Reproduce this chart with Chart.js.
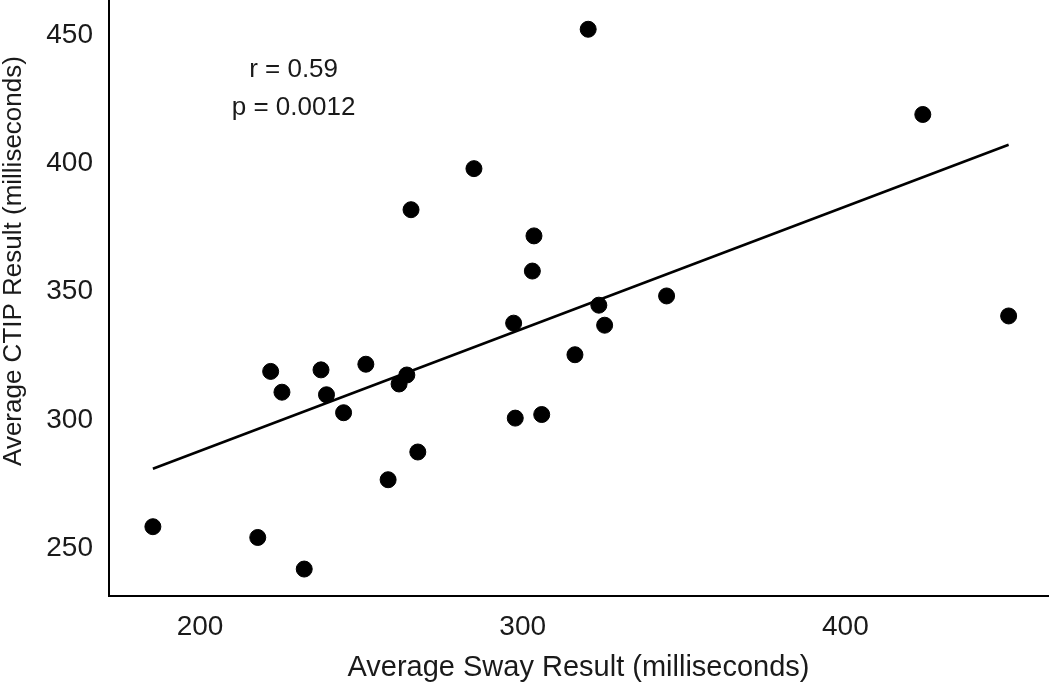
<!DOCTYPE html>
<html><head><meta charset="utf-8">
<script src="https://cdn.jsdelivr.net/npm/chart.js@4/dist/chart.umd.min.js"></script>
<style>html,body{margin:0;padding:0;background:#fff}#w{width:1050px;height:682px}</style>
</head><body><div id="w"><canvas id="c"></canvas></div>
<script>
const swayX = [185.4,217.9,221.9,225.4,232.3,237.5,239.2,244.5,251.4,258.3,261.7,264.1,265.4,267.5,284.9,297.2,297.7,303.0,303.5,305.9,316.2,320.3,323.6,325.4,344.6,424.0,450.6];
const ctipY = [258.4,254.2,318.9,310.8,241.9,319.5,309.8,302.8,321.7,276.7,314.0,317.5,381.9,287.5,397.9,337.7,300.7,358.0,371.7,302.1,325.4,452.2,344.7,336.9,348.3,419.0,340.5];
const fitX = [185.4, 450.6];
const fitY = [281.0, 407.2];
const xTicks = [200, 300, 400];
const yTicks = [250, 300, 350, 400, 450];
const xTitle = 'Average Sway Result (milliseconds)';
const yTitle = 'Average CTIP Result (milliseconds)';
const statsText = ["r = 0.59", "p = 0.0012"];
const statsPos = [[229, 436.4], [229, 421.6]];

const FONT = "'Liberation Sans', Arial, sans-serif";
const TXT = '#1a1a1a';
const annot = {
  id: 'annot',
  afterDatasetsDraw(chart) {
    const ctx = chart.ctx, xs = chart.scales.x, ys = chart.scales.y, ca = chart.chartArea;
    ctx.save();
    ctx.font = "26px " + FONT;
    ctx.fillStyle = TXT;
    ctx.textAlign = "center";
    ctx.textBaseline = "middle";
    statsText.forEach((t, i) => ctx.fillText(t, xs.getPixelForValue(statsPos[i][0]), ys.getPixelForValue(statsPos[i][1])));
    // y axis title
    ctx.font = "26px " + FONT;
    ctx.translate(14, ca.top + (ca.bottom - ca.top) * 0.438);
    ctx.rotate(-Math.PI / 2);
    ctx.fillText(yTitle, 0, 0);
    ctx.restore();
  }
};

new Chart(document.getElementById('c'), {
  type: 'scatter',
  data: {
    datasets: [
      { data: swayX.map((x, i) => ({x, y: ctipY[i]})), backgroundColor: '#000', borderColor: '#000', pointRadius: 8, pointHoverRadius: 8, order: 1 },
      { data: fitX.map((x, i) => ({x, y: fitY[i]})), showLine: true, borderColor: '#000', borderWidth: 2.6, pointRadius: 0, fill: false, order: 2 }
    ]
  },
  options: {
    responsive: true, maintainAspectRatio: false, animation: false,
    layout: { autoPadding: false, padding: { top: 0, right: 2, left: 0, bottom: 0 } },
    plugins: { legend: { display: false }, tooltip: { enabled: false } },
    scales: {
      x: {
        type: 'linear', min: 171.8, max: 462.8,
        afterBuildTicks: s => { s.ticks = xTicks.map(v => ({value: v})); },
        afterFit: s => { s.height = 86; s.paddingLeft = 0; s.paddingRight = 0; },
        grid: { display: false, drawTicks: true, tickLength: 8, tickColor: '#000', tickWidth: 1.5 },
        border: { display: true, color: '#000', width: 2 },
        ticks: { color: TXT, font: { size: 28, family: FONT }, padding: 6, maxRotation: 0 },
        title: { display: true, text: xTitle, color: TXT, font: { size: 29, family: FONT, lineHeight: 1.0 }, padding: { top: 0, bottom: 0 } }
      },
      y: {
        type: 'linear', min: 231.4, max: 463.6,
        afterBuildTicks: s => { s.ticks = yTicks.map(v => ({value: v})); },
        afterFit: s => { s.width = 109; s.paddingTop = 0; s.paddingBottom = 0; },
        grid: { display: false, drawTicks: true, tickLength: 8, tickColor: '#000', tickWidth: 1.5 },
        border: { display: true, color: '#000', width: 2 },
        ticks: { color: TXT, font: { size: 28, family: FONT }, padding: 8 },
        title: { display: false }
      }
    }
  },
  plugins: [annot]
});
</script>
</body></html>
